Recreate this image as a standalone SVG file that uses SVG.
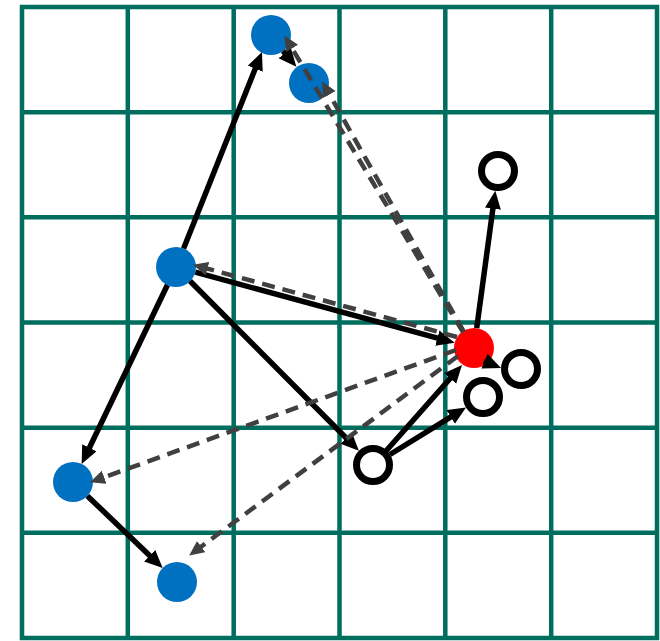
<svg xmlns="http://www.w3.org/2000/svg" width="660" height="641" viewBox="0 0 660 641">
<style>
.grid{stroke:#006E5E;stroke-width:4.5;fill:none}
.blue{fill:#0070C0}
.red{fill:#FF0000}
.open{fill:#FFFFFF;stroke:#000;stroke-width:7}
.solid{stroke:#000;stroke-width:5.5;fill:none;marker-end:url(#ah)}
.dash{stroke:#404040;stroke-width:4.5;stroke-dasharray:13 8;fill:none;marker-end:url(#dh)}
</style>
<defs>
<marker id="ah" markerUnits="userSpaceOnUse" markerWidth="20" markerHeight="17" refX="6" refY="8" orient="auto"><path d="M0,0 L18,8 L0,16 z" fill="#000"/></marker>
<marker id="dh" markerUnits="userSpaceOnUse" markerWidth="17" markerHeight="15" refX="4" refY="7" orient="auto"><path d="M0,0 L15,7 L0,14 z" fill="#404040"/></marker>
</defs>
<rect width="660" height="641" fill="#fff"/>
<g id="grid" class="grid">
<rect x="22" y="7" width="635" height="631"/>
<path d="M127.8,7V638M233.7,7V638M339.5,7V638M445.3,7V638M551.2,7V638M22,112.2H657M22,217.3H657M22,322.5H657M22,427.7H657M22,532.8H657"/>
</g>
<g id="nodeA"><circle class="blue" cx="271" cy="35" r="20"/></g>
<g id="nodeB"><circle class="blue" cx="309" cy="83" r="20"/></g>
<g id="nodeC"><circle class="blue" cx="176" cy="267" r="20"/></g>
<g id="nodeD"><circle class="blue" cx="73" cy="482" r="20"/></g>
<g id="nodeE"><circle class="blue" cx="177" cy="582" r="20"/></g>
<g id="nodeR"><circle class="red" cx="474" cy="348" r="20"/></g>
<g id="nodeF"><circle class="open" cx="498" cy="171" r="16.5"/></g>
<g id="nodeG"><circle class="open" cx="521" cy="369" r="16.5"/></g>
<g id="nodeH"><circle class="open" cx="483" cy="397" r="16.5"/></g>
<g id="nodeI"><circle class="open" cx="373" cy="465" r="16.5"/></g>
<g id="connectors">
<line class="solid" x1="183.6" y1="248.5" x2="257.5" y2="63.1"/>
<line class="solid" x1="283" y1="51" x2="288.6" y2="57.6"/>
<line class="solid" x1="195.3" y1="272.2" x2="443.1" y2="339.7"/>
<line class="solid" x1="190" y1="281" x2="350.4" y2="442.3"/>
<line class="solid" x1="167.4" y1="285" x2="86.8" y2="453.2"/>
<line class="solid" x1="87.4" y1="495.9" x2="154" y2="559.8"/>
<line class="solid" x1="476.7" y1="328.2" x2="493.7" y2="202.7"/>
<line class="solid" x1="484" y1="361" x2="490" y2="363.5"/>
<line class="solid" x1="386" y1="451" x2="454.1" y2="374"/>
<line class="solid" x1="390" y1="454.5" x2="455.8" y2="413.8"/>
<line class="dash" x1="463" y1="332" x2="290" y2="45"/>
<line class="dash" x1="464" y1="332" x2="327.5" y2="91"/>
<line class="dash" x1="457" y1="337" x2="203.6" y2="267.6"/>
<line class="dash" x1="456" y1="350" x2="100.4" y2="478.6"/>
<line class="dash" x1="458" y1="356" x2="198" y2="549"/>
</g>
</svg>
